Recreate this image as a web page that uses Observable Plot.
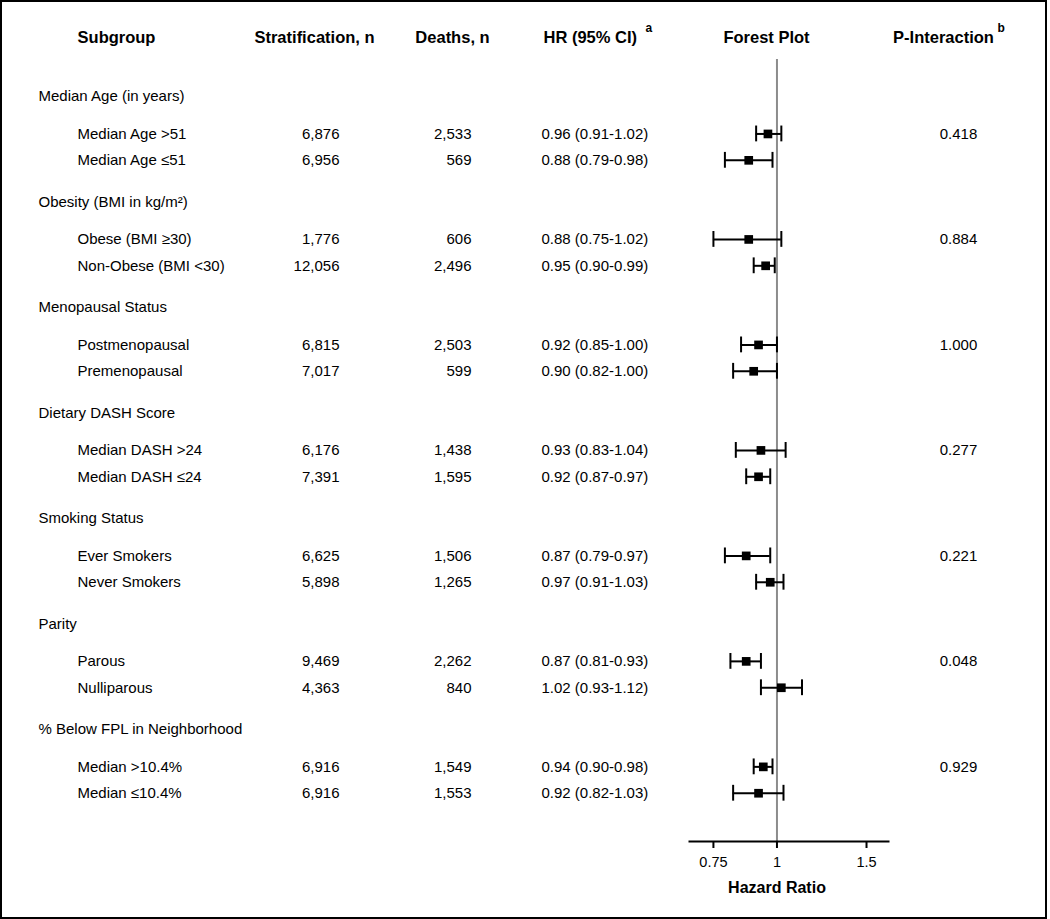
<!DOCTYPE html>
<html><head><meta charset="utf-8">
<script src="https://cdn.jsdelivr.net/npm/d3@7"></script>
<script src="https://cdn.jsdelivr.net/npm/@observablehq/plot@0.6"></script>
<style>
html,body{margin:0;padding:0;background:#fff}
#wrap{position:relative;width:1050px;height:919px}
#wrap::after{content:"";position:absolute;left:0;top:0;width:1047px;height:919px;box-sizing:border-box;border:2px solid #000;pointer-events:none}
</style></head><body><div id="wrap"></div>
<script>
// ---------- data ----------
const groupLabels = [
  "Median Age (in years)",
  "Obesity (BMI in kg/m\u00B2)",
  "Menopausal Status",
  "Dietary DASH Score",
  "Smoking Status",
  "Parity",
  "% Below FPL in Neighborhood"
];
const subgroupLabels = [
  "Median Age >51", "Median Age \u226451",
  "Obese (BMI \u226530)", "Non-Obese (BMI <30)",
  "Postmenopausal", "Premenopausal",
  "Median DASH >24", "Median DASH \u226424",
  "Ever Smokers", "Never Smokers",
  "Parous", "Nulliparous",
  "Median >10.4%", "Median \u226410.4%"
];
const subgroupGroup = [0,0,1,1,2,2,3,3,4,4,5,5,6,6];
const stratN  = [6876, 6956, 1776, 12056, 6815, 7017, 6176, 7391, 6625, 5898, 9469, 4363, 6916, 6916];
const deathsN = [2533, 569, 606, 2496, 2503, 599, 1438, 1595, 1506, 1265, 2262, 840, 1549, 1553];
const hr   = [0.96, 0.88, 0.88, 0.95, 0.92, 0.90, 0.93, 0.92, 0.87, 0.97, 0.87, 1.02, 0.94, 0.92];
const hrLo = [0.91, 0.79, 0.75, 0.90, 0.85, 0.82, 0.83, 0.87, 0.79, 0.91, 0.81, 0.93, 0.90, 0.82];
const hrHi = [1.02, 0.98, 1.02, 0.99, 1.00, 1.00, 1.04, 0.97, 0.97, 1.03, 0.93, 1.12, 0.98, 1.03];
const pInteraction = ["0.418", "0.884", "1.000", "0.277", "0.221", "0.048", "0.929"];
const columnHeaders = ["Subgroup", "Stratification, n", "Deaths, n", "HR (95% CI)", "Forest Plot", "P-Interaction"];
const headerNotes = ["a", "b"];          // attached to HR and P-Interaction headers
const axisTicks = [0.75, 1, 1.5];
const axisLabel = "Hazard Ratio";

// ---------- layout (positions / styles) ----------
const FONT = "'Liberation Sans', Arial, Helvetica, sans-serif";
const W = 1050, H = 919;
const M = {left: 689, right: 162, top: 59, bottom: 78};
const dxOf = px => px - M.left;
const dyOf = py => py - M.top;
const GROUP_STEP = 4, FIRST_ROW = 1.42;
const colHeaderLayout = [
  {x: 116, anchor: "middle"},
  {x: 314, anchor: "middle"},
  {x: 452, anchor: "middle"},
  {x: 543, anchor: "start"},
  {x: 766, anchor: "middle"},
  {x: 943, anchor: "middle"}
];
const noteLayout = [{x: 645}, {x: 997}];

// ---------- derived tables ----------
const groups = groupLabels.map((label, g) => ({label, pos: g * GROUP_STEP, p: pInteraction[g], pPos: g * GROUP_STEP + FIRST_ROW}));
const rows = subgroupLabels.map((label, i) => {
  const g = subgroupGroup[i];
  const k = i - subgroupGroup.indexOf(g);
  return {
    label, g, pos: g * GROUP_STEP + FIRST_ROW + k,
    strat: d3.format(",")(stratN[i]),
    deaths: d3.format(",")(deathsN[i]),
    hr: hr[i], lo: hrLo[i], hi: hrHi[i],
    hrText: `${d3.format(".2f")(hr[i])} (${d3.format(".2f")(hrLo[i])}-${d3.format(".2f")(hrHi[i])})`
  };
});

const bodySize = 15, headSize = 16.5;
const headerMarks = columnHeaders.map((h, i) => Plot.text([h], {
  text: d => d, frameAnchor: "top-left", textAnchor: colHeaderLayout[i].anchor,
  dx: dxOf(colHeaderLayout[i].x), dy: dyOf(31), fontWeight: "bold", fontSize: headSize
}));
const noteMarks = headerNotes.map((n, i) => Plot.text([n], {
  text: d => d, frameAnchor: "top-left", textAnchor: "start",
  dx: dxOf(noteLayout[i].x), dy: dyOf(23), fontWeight: "bold", fontSize: 12
}));

const chart = Plot.plot({
  width: W, height: H,
  marginLeft: M.left, marginRight: M.right, marginTop: M.top, marginBottom: M.bottom,
  style: {fontFamily: FONT, fontSize: "15px", color: "#000", background: "transparent"},
  x: {type: "log", domain: [0.673, 1.657], label: null},
  y: {domain: [-1.403, 28.25], reverse: true, axis: null},
  marks: [
    Plot.ruleX([1], {stroke: "#8c8c8c", strokeWidth: 2}),
    Plot.frame({anchor: "bottom", stroke: "#000", strokeWidth: 2}),
    Plot.axisX({ticks: axisTicks, tickFormat: d => String(d), tickSize: 7, tickPadding: 8,
                strokeWidth: 2, fontSize: 14.5, label: null}),
    Plot.text([axisLabel], {text: d => d, frameAnchor: "bottom", dx: -12, dy: 51, fontWeight: "bold", fontSize: 16}),
    // error bars
    Plot.ruleY(rows, {y: "pos", x1: "lo", x2: "hi", stroke: "#000", strokeWidth: 2}),
    Plot.ruleX(rows, {x: "lo", y1: d => d.pos - 0.3, y2: d => d.pos + 0.3, stroke: "#000", strokeWidth: 2}),
    Plot.ruleX(rows, {x: "hi", y1: d => d.pos - 0.3, y2: d => d.pos + 0.3, stroke: "#000", strokeWidth: 2}),
    Plot.dot(rows, {x: "hr", y: "pos", symbol: "square", r: 4.9, fill: "#000", stroke: null}),
    // table text
    Plot.text(groups, {y: "pos", text: "label", frameAnchor: "left", textAnchor: "start", dx: dxOf(38), fontSize: bodySize}),
    Plot.text(groups, {y: "pPos", text: "p", frameAnchor: "left", textAnchor: "middle", dx: dxOf(958), fontSize: bodySize}),
    Plot.text(rows, {y: "pos", text: "label", frameAnchor: "left", textAnchor: "start", dx: dxOf(77), fontSize: bodySize}),
    Plot.text(rows, {y: "pos", text: "strat", frameAnchor: "left", textAnchor: "end", dx: dxOf(339), fontSize: bodySize}),
    Plot.text(rows, {y: "pos", text: "deaths", frameAnchor: "left", textAnchor: "end", dx: dxOf(471), fontSize: bodySize}),
    Plot.text(rows, {y: "pos", text: "hrText", frameAnchor: "left", textAnchor: "start", dx: dxOf(541), fontSize: bodySize}),
    ...headerMarks,
    ...noteMarks
  ]
});
document.getElementById("wrap").appendChild(chart);
</script>
</body></html>
